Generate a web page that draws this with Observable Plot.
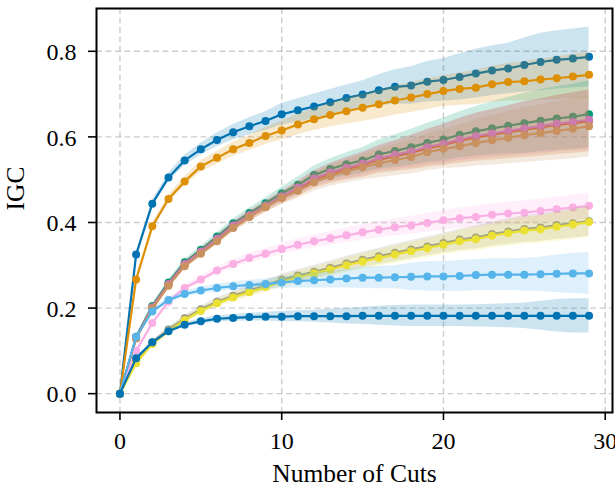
<!DOCTYPE html>
<html><head><meta charset="utf-8">
<script src="https://cdn.jsdelivr.net/npm/d3@7"></script>
<script src="https://cdn.jsdelivr.net/npm/@observablehq/plot@0.6"></script>
<style>body{margin:0;background:#fff;} svg{display:block;}</style>
</head><body><div id="chart"></div>
<script>
const cuts = [0,1,2,3,4,5,6,7,8,9,10,11,12,13,14,15,16,17,18,19,20,21,22,23,24,25,26,27,28,29];
const seriesNames = ["Series 1","Series 2","Series 3","Series 4","Series 5","Series 6","Series 7","Series 8","Series 9","Series 10","Series 11"];
const seriesColors = ["#0173b2","#de8f05","#029e73","#d55e00","#cc78bc","#ca9161","#fbafe4","#949494","#ece133","#56b4e9","#0173b2"];

const mean1 = [0,0.325,0.444,0.505,0.545,0.571,0.593,0.611,0.625,0.637,0.653,0.662,0.671,0.681,0.691,0.699,0.709,0.717,0.720,0.729,0.733,0.740,0.748,0.755,0.760,0.768,0.775,0.780,0.783,0.787];
const sd1   = [0,0.004,0.008,0.010,0.012,0.014,0.016,0.018,0.020,0.022,0.025,0.027,0.029,0.030,0.030,0.032,0.036,0.040,0.044,0.047,0.050,0.054,0.057,0.058,0.059,0.063,0.067,0.068,0.069,0.070];
const mean2 = [0,0.267,0.391,0.455,0.496,0.531,0.551,0.571,0.586,0.602,0.615,0.629,0.641,0.651,0.660,0.668,0.676,0.685,0.692,0.700,0.707,0.712,0.715,0.723,0.728,0.730,0.734,0.737,0.741,0.745];
const sd2   = [0,0.004,0.007,0.009,0.011,0.013,0.015,0.017,0.018,0.020,0.022,0.024,0.026,0.028,0.030,0.032,0.033,0.034,0.035,0.036,0.036,0.038,0.040,0.042,0.044,0.046,0.048,0.050,0.052,0.054];
const mean3 = [0,0.133,0.205,0.260,0.307,0.336,0.367,0.398,0.422,0.445,0.468,0.488,0.511,0.525,0.536,0.545,0.559,0.567,0.576,0.586,0.594,0.605,0.613,0.620,0.626,0.632,0.638,0.643,0.647,0.653];
const sd3   = [0,0.003,0.005,0.006,0.007,0.008,0.009,0.010,0.012,0.013,0.015,0.018,0.021,0.024,0.027,0.030,0.034,0.038,0.042,0.046,0.050,0.054,0.058,0.062,0.066,0.070,0.072,0.074,0.076,0.078];
const mean4 = [0,0.130,0.200,0.254,0.301,0.330,0.359,0.390,0.414,0.436,0.458,0.478,0.500,0.514,0.525,0.534,0.547,0.555,0.563,0.573,0.581,0.591,0.599,0.605,0.611,0.617,0.622,0.628,0.632,0.637];
const sd4   = [0,0.003,0.005,0.006,0.007,0.008,0.009,0.010,0.011,0.012,0.014,0.017,0.020,0.023,0.026,0.029,0.032,0.036,0.040,0.044,0.048,0.052,0.056,0.059,0.062,0.065,0.067,0.069,0.071,0.072];
const mean5 = [0,0.131,0.202,0.256,0.303,0.332,0.362,0.393,0.417,0.439,0.461,0.481,0.503,0.517,0.528,0.537,0.550,0.558,0.566,0.576,0.584,0.594,0.602,0.608,0.614,0.620,0.625,0.631,0.635,0.640];
const sd5   = [0,0.003,0.005,0.006,0.007,0.008,0.009,0.010,0.011,0.012,0.014,0.016,0.019,0.022,0.025,0.028,0.031,0.034,0.038,0.042,0.046,0.050,0.053,0.056,0.059,0.062,0.064,0.066,0.068,0.070];
const mean6 = [0,0.129,0.199,0.252,0.298,0.327,0.356,0.387,0.413,0.436,0.457,0.474,0.494,0.508,0.519,0.529,0.538,0.546,0.553,0.564,0.572,0.578,0.586,0.592,0.598,0.604,0.609,0.614,0.619,0.625];
const sd6   = [0,0.003,0.005,0.006,0.007,0.008,0.009,0.010,0.012,0.013,0.015,0.018,0.021,0.024,0.027,0.030,0.034,0.037,0.040,0.043,0.046,0.050,0.054,0.058,0.061,0.064,0.066,0.068,0.070,0.072];
const mean7 = [0,0.100,0.165,0.215,0.247,0.267,0.288,0.303,0.317,0.327,0.338,0.348,0.356,0.363,0.370,0.377,0.383,0.389,0.393,0.399,0.405,0.410,0.413,0.418,0.421,0.423,0.427,0.431,0.435,0.439];
const sd7   = [0,0.003,0.005,0.006,0.007,0.008,0.009,0.010,0.011,0.012,0.013,0.014,0.015,0.016,0.017,0.018,0.019,0.020,0.021,0.022,0.023,0.024,0.025,0.026,0.027,0.027,0.028,0.028,0.029,0.030];
const mean8 = [0,0.078,0.120,0.150,0.176,0.197,0.215,0.229,0.241,0.253,0.266,0.276,0.285,0.294,0.304,0.313,0.321,0.329,0.337,0.344,0.352,0.360,0.365,0.373,0.379,0.385,0.388,0.394,0.398,0.403];
const sd8   = [0,0.003,0.005,0.006,0.007,0.008,0.009,0.010,0.011,0.012,0.013,0.014,0.015,0.016,0.017,0.018,0.019,0.020,0.021,0.022,0.023,0.025,0.027,0.028,0.030,0.031,0.032,0.033,0.034,0.035];
const mean9 = [0,0.071,0.116,0.146,0.172,0.193,0.211,0.225,0.237,0.249,0.262,0.272,0.281,0.290,0.300,0.309,0.317,0.325,0.333,0.340,0.348,0.356,0.361,0.369,0.375,0.381,0.384,0.390,0.395,0.401];
const sd9   = [0,0.003,0.005,0.006,0.007,0.008,0.009,0.010,0.011,0.012,0.013,0.014,0.015,0.016,0.017,0.018,0.019,0.020,0.021,0.022,0.023,0.025,0.027,0.028,0.030,0.031,0.032,0.033,0.034,0.035];
const mean10 = [0,0.133,0.192,0.219,0.233,0.241,0.247,0.251,0.254,0.256,0.260,0.263,0.265,0.267,0.269,0.271,0.271,0.272,0.273,0.274,0.274,0.275,0.277,0.278,0.278,0.278,0.279,0.280,0.281,0.281];
const sd10  = [0,0.003,0.005,0.006,0.007,0.008,0.009,0.010,0.011,0.012,0.014,0.016,0.018,0.020,0.022,0.025,0.026,0.027,0.032,0.034,0.035,0.036,0.036,0.037,0.037,0.038,0.040,0.044,0.047,0.049];
const mean11 = [0,0.083,0.120,0.146,0.161,0.169,0.175,0.177,0.179,0.180,0.180,0.181,0.181,0.181,0.181,0.182,0.182,0.182,0.182,0.182,0.182,0.182,0.182,0.182,0.182,0.182,0.182,0.182,0.182,0.182];
const sd11  = [0,0.002,0.003,0.004,0.005,0.006,0.007,0.008,0.009,0.010,0.012,0.013,0.014,0.016,0.018,0.020,0.022,0.024,0.025,0.025,0.025,0.025,0.026,0.027,0.028,0.030,0.034,0.038,0.040,0.040];

const yTicks = [0.0,0.2,0.4,0.6,0.8];
const yTickLabels = ["0.0","0.2","0.4","0.6","0.8"];
const xTicks = [0,10,20,30];
const xTickLabels = ["0","10","20","30"];

const means = [mean1,mean2,mean3,mean4,mean5,mean6,mean7,mean8,mean9,mean10,mean11];
const sds = [sd1,sd2,sd3,sd4,sd5,sd6,sd7,sd8,sd9,sd10,sd11];

const serif = "Liberation Serif";

const marks = [
  Plot.gridX(xTicks, {stroke: "#b8b8b8", strokeOpacity: 0.7, strokeWidth: 1.4, strokeDasharray: "6,3.5"}),
  Plot.gridY(yTicks, {stroke: "#b8b8b8", strokeOpacity: 0.7, strokeWidth: 1.4, strokeDasharray: "6,3.5"})
];
seriesNames.forEach((name, i) => {
  const d = cuts.map((c, j) => ({series: name, cut: c, mean: means[i][j], lo: means[i][j] - sds[i][j], hi: means[i][j] + sds[i][j]}));
  marks.push(Plot.lineY(d, {x: "cut", y: "mean", stroke: "series", strokeWidth: 2.2}));
  marks.push(Plot.dot(d, {x: "cut", y: "mean", fill: "series", r: 4}));
  marks.push(Plot.areaY(d, {x: "cut", y1: "lo", y2: "hi", fill: "series", fillOpacity: 0.2}));
});
marks.push(
  Plot.frame({stroke: "black", strokeWidth: 2}),
  Plot.axisX(xTicks, {tickSize: 8, strokeWidth: 1.6, label: null, tickFormat: () => ""}),
  Plot.axisY(yTicks, {tickSize: 8, strokeWidth: 1.6, label: null, tickFormat: () => ""}),
  Plot.text(xTicks, {x: d => d, text: (d, i) => xTickLabels[i], frameAnchor: "bottom", lineAnchor: "top", dy: 19, fontSize: 24, fontFamily: serif, fill: "black"}),
  Plot.text(yTicks, {y: d => d, text: (d, i) => yTickLabels[i], frameAnchor: "left", textAnchor: "end", lineAnchor: "middle", dx: -20, dy: 1, fontSize: 24, fontFamily: serif, fill: "black"}),
  Plot.text(["IGC"], {frameAnchor: "left", dx: -81, rotate: -90, fontSize: 25.5, fill: "black", fontFamily: serif}),
  Plot.text(["Number of Cuts"], {frameAnchor: "bottom", dy: 69, fontSize: 25.5, fill: "black", fontFamily: serif})
);

const chart = Plot.plot({
  width: 615, height: 489,
  marginLeft: 96, marginRight: 3, marginTop: 8, marginBottom: 77,
  style: {fontFamily: serif, fontSize: "24px", color: "black", background: "white"},
  x: {domain: [-1.45, 30.45]},
  y: {domain: [-0.044, 0.9]},
  color: {type: "ordinal", domain: seriesNames, range: seriesColors},
  marks
});
document.getElementById("chart").appendChild(chart);
</script>
</body></html>
